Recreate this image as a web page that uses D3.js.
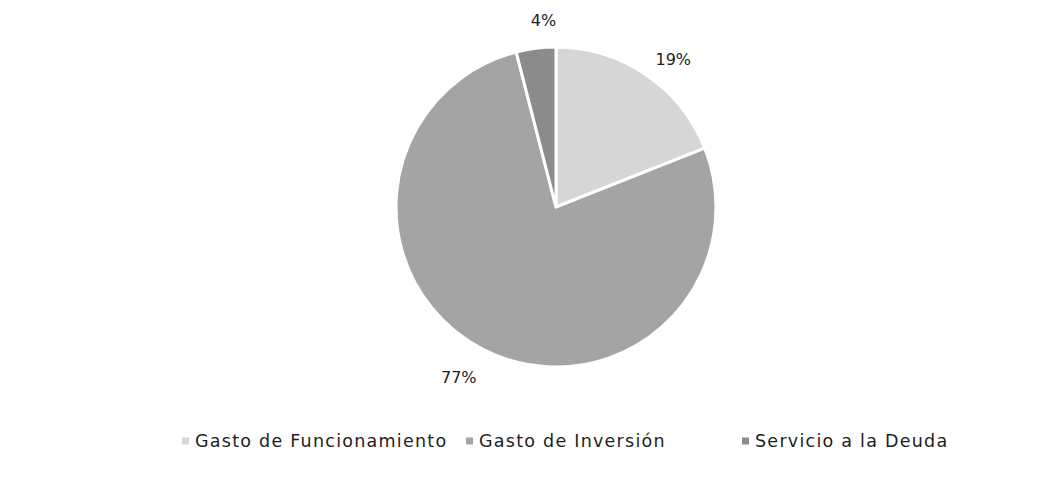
<!DOCTYPE html>
<html>
<head>
<meta charset="utf-8">
<script src="https://cdn.jsdelivr.net/npm/d3@7"></script>
<style>
  html, body { margin: 0; padding: 0; background: #ffffff; }
  svg { display: block; }
</style>
</head>
<body>
<svg id="chart" width="1055" height="500"></svg>
<script>
// Distribución del gasto por tipo
const categories = ["Gasto de Funcionamiento", "Gasto de Inversión", "Servicio a la Deuda"];
const shares = [19, 77, 4];
const labels = ["19%", "77%", "4%"];
const colors = ["#d6d6d6", "#a4a4a4", "#8b8b8b"];

const width = 1055, height = 500;
const cx = 556, cy = 207, radius = 160, labelRadius = 192;
const labelTurn = 0.06; // labels sit slightly clockwise of each slice's middle

const svg = d3.select("#chart");

const color = d3.scaleOrdinal().domain(categories).range(colors);

const pie = d3.pie().sort(null).value(d => d.value);
const data = categories.map((c, i) => ({ name: c, value: shares[i], label: labels[i] }));
const arcs = pie(data);

const arc = d3.arc().innerRadius(0).outerRadius(radius);

const g = svg.append("g").attr("transform", `translate(${cx},${cy})`);

g.selectAll("path.slice")
  .data(arcs)
  .join("path")
  .attr("class", "slice")
  .attr("d", arc)
  .attr("fill", d => color(d.data.name))
  .attr("stroke", "#ffffff")
  .attr("stroke-width", 3)
  .attr("stroke-linejoin", "round");

function labelPos(d) {
  const a = (d.startAngle + d.endAngle) / 2 + labelTurn;
  return [Math.sin(a) * labelRadius, -Math.cos(a) * labelRadius + 5];
}

g.selectAll("text.pct")
  .data(arcs)
  .join("text")
  .attr("class", "pct")
  .attr("transform", d => `translate(${labelPos(d)})`)
  .attr("text-anchor", "middle")
  .attr("dominant-baseline", "central")
  .attr("font-family", "'DejaVu Sans', sans-serif")
  .attr("font-size", 16)
  .attr("fill", "#222222")
  .text(d => d.data.label);

// Legend
const legendOffsets = [182, 466, 742];
const legend = svg.append("g").attr("class", "legend");
const items = legend.selectAll("g.item")
  .data(categories)
  .join("g")
  .attr("class", "item")
  .attr("transform", (d, i) => `translate(${legendOffsets[i]},441)`);

items.append("rect")
  .attr("x", 0).attr("y", -3.5)
  .attr("width", 7).attr("height", 7)
  .attr("fill", d => color(d));

items.append("text")
  .attr("x", 13)
  .attr("dominant-baseline", "central")
  .attr("font-family", "'DejaVu Sans', sans-serif")
  .attr("font-size", 17.5)
  .attr("letter-spacing", 1.25)
  .attr("fill", "#1e1e1e")
  .text(d => d);
</script>
</body>
</html>
